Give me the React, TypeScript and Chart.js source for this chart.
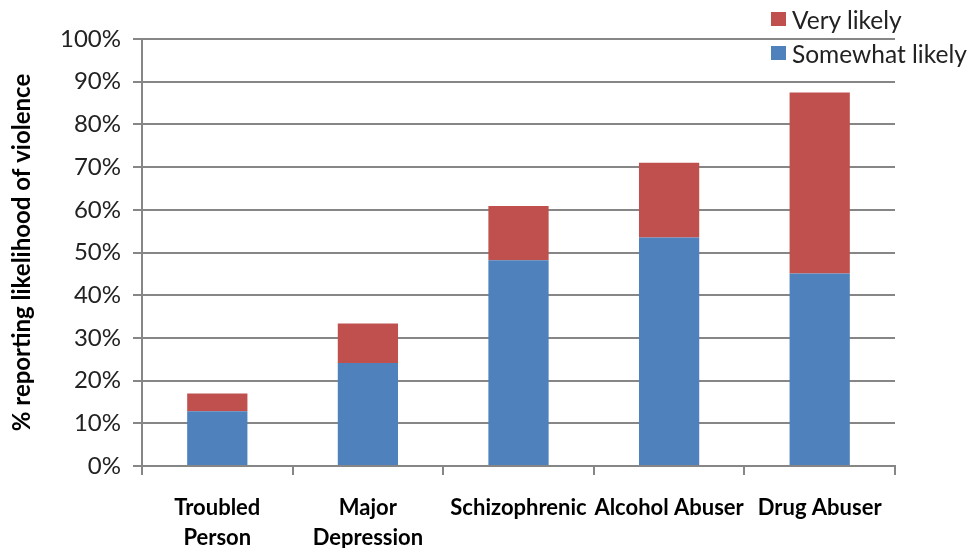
import React, { useEffect, useRef } from "react";
import { Chart, registerables } from "chart.js";

Chart.register(...registerables);

const categories: (string | string[])[] = [
  ["Troubled", "Person"],
  ["Major", "Depression"],
  "Schizophrenic",
  "Alcohol Abuser",
  "Drug Abuser",
];
const somewhatLikely = [12.8, 24.1, 48.2, 53.5, 45.1];
const veryLikely = [4.2, 9.3, 12.7, 17.5, 42.4];
const seriesNames = ["Very likely", "Somewhat likely"];
const yTitle = "% reporting likelihood of violence";

const BLUE = "#4F81BD";
const RED = "#C0504D";
const GRID = "#868686";
const FONT = "Lato, 'Open Sans', sans-serif";

export default function App() {
  const ref = useRef<HTMLCanvasElement | null>(null);

  useEffect(() => {
    document.body.style.margin = "0";
    const ctx = ref.current;
    if (!ctx) return;
    const chart = new Chart(ctx, {
      type: "bar",
      data: {
        labels: categories,
        datasets: [
          {
            label: seriesNames[1],
            data: somewhatLikely,
            backgroundColor: BLUE,
            barPercentage: 0.4,
            categoryPercentage: 1,
            stack: "s",
          },
          {
            label: seriesNames[0],
            data: veryLikely,
            backgroundColor: RED,
            barPercentage: 0.4,
            categoryPercentage: 1,
            stack: "s",
          },
        ],
      },
      options: {
        animation: false,
        responsive: false,
        maintainAspectRatio: false,
        layout: { padding: { left: 0, right: 76, top: 39, bottom: 0 } },
        plugins: {
          legend: { display: false },
          tooltip: { enabled: false },
        },
        scales: {
          x: {
            stacked: true,
            afterFit: (s: any) => {
              s.height = 82;
            },
            grid: {
              display: true,
              drawOnChartArea: false,
              drawTicks: true,
              tickLength: 9,
              color: GRID,
              lineWidth: 2,
              offset: true,
            },
            border: { display: true, color: GRID, width: 2 },
            ticks: {
              color: "#000",
              padding: 18,
              maxRotation: 0,
              autoSkip: false,
              font: { family: FONT, size: 22, weight: "bold", lineHeight: 1.36 },
            },
          },
          y: {
            stacked: true,
            min: 0,
            max: 100,
            afterFit: (s: any) => {
              s.width = 142;
            },
            grid: {
              color: GRID,
              lineWidth: 2,
              tickLength: 9,
            },
            border: { display: true, color: GRID, width: 2 },
            ticks: {
              stepSize: 10,
              padding: 12,
              color: "#222",
              font: { family: FONT, size: 24 },
              callback: (v: any) => v + "%",
            },
            title: {
              display: true,
              text: yTitle,
              color: "#000",
              padding: { top: 8, bottom: 0 },
              font: { family: FONT, size: 24, weight: "bold" },
            },
          },
        },
      },
    });
    return () => chart.destroy();
  }, []);

  const legendItems = [
    { name: seriesNames[0], color: RED, top: 6 },
    { name: seriesNames[1], color: BLUE, top: 40 },
  ];

  return (
    <div style={{ position: "absolute", left: 0, top: 0, width: 971, height: 548, background: "#fff" }}>
      <canvas ref={ref} width={971} height={548} style={{ width: 971, height: 548, display: "block" }} />
      {legendItems.map((it) => (
        <div
          key={it.name}
          style={{
            position: "absolute",
            left: 771,
            top: it.top,
            height: 26,
            display: "flex",
            alignItems: "center",
            fontFamily: FONT,
            fontSize: 24.5,
            color: "#222",
            whiteSpace: "nowrap",
          }}
        >
          <span style={{ display: "inline-block", width: 15, height: 14, background: it.color, marginRight: 6 }} />
          <span>{it.name}</span>
        </div>
      ))}
    </div>
  );
}
